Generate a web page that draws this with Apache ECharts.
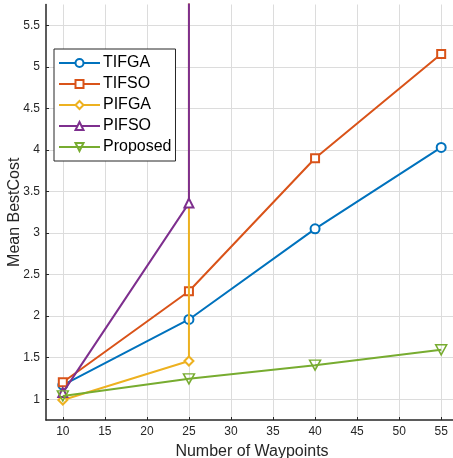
<!DOCTYPE html>
<html><head><meta charset="utf-8">
<script src="https://cdn.jsdelivr.net/npm/echarts@6/dist/echarts.min.js"></script>
<style>html,body{margin:0;padding:0;background:#fff}#c{width:453px;height:458px}</style>
</head><body><div id="c"></div>
<script>
const seriesNames = ['TIFGA','TIFSO','PIFGA','PIFSO','Proposed'];
const tifgaX = [10,25,40,55];
const tifgaY = [1.17,1.96,3.05,4.03];
const tifsoX = [10,25,40,55];
const tifsoY = [1.205,2.30,3.90,5.155];
const pifgaX = [10,25,25];
const pifgaY = [0.99,1.46,20];
const pifsoX = [10,25,25];
const pifsoY = [1.08,3.36,20];
const propX = [10,25,40,55];
const propY = [1.04,1.245,1.41,1.595];
const xTicks = [10,15,20,25,30,35,40,45,50,55];
const yTicks = [1,1.5,2,2.5,3,3.5,4,4.5,5,5.5];
const colors = ['#0072BD','#D95319','#EDB120','#7E2F8E','#77AC30'];
const symbols = ['emptyCircle','emptyRect','emptyDiamond','emptyTriangle','path://M0,0 L10,0 L5,9 Z'];

function zip(xs, ys){ return xs.map((x,i)=>[x, ys[i]]); }
const datas = [zip(tifgaX,tifgaY), zip(tifsoX,tifsoY), zip(pifgaX,pifgaY), zip(pifsoX,pifsoY), zip(propX,propY)];

const chart = echarts.init(document.getElementById('c'), null, {renderer:'canvas'});
const font = 'Helvetica, "Liberation Sans", Arial, sans-serif';
chart.setOption({
  animation:false,
  textStyle:{fontFamily:font},
  grid:{left:46, right:-5, top:4.5, bottom:38, containLabel:false, outerBoundsMode:'none'},
  legend:{
    data: seriesNames,
    orient:'vertical', left:54, top:49,
    itemWidth:41, itemHeight:10, itemGap:3,
    padding:[5,4,5,4],
    borderColor:'#262626', borderWidth:1, backgroundColor:'#fff',
    textStyle:{fontSize:16, lineHeight:18, color:'#000', fontFamily:font, padding:[0,0,0,-2]}
  },
  xAxis:{
    type:'value', min:8, max:57,
    name:'Number of Waypoints', nameLocation:'middle', nameGap:24, nameMoveOverlap:false,
    nameTextStyle:{fontSize:16, color:'#262626'},
    axisLine:{show:true, onZero:false, lineStyle:{color:'#262626', width:1.5}},
    axisTick:{show:true, inside:true, length:3, customValues:xTicks, lineStyle:{color:'#262626'}},
    axisLabel:{customValues:xTicks, fontSize:12, color:'#262626', margin:6},
    splitLine:{show:true, lineStyle:{color:'#dcdcdc', width:1}}
  },
  yAxis:{
    type:'value', min:0.75, max:5.75,
    name:'Mean BestCost', nameLocation:'middle', nameGap:23, nameMoveOverlap:false,
    nameTextStyle:{fontSize:16, color:'#262626'},
    axisLine:{show:true, onZero:false, lineStyle:{color:'#262626', width:1.5}},
    axisTick:{show:true, inside:true, length:3, customValues:yTicks, lineStyle:{color:'#262626'}},
    axisLabel:{customValues:yTicks, fontSize:12, color:'#262626', margin:6},
    splitLine:{show:true, lineStyle:{color:'#dcdcdc', width:1}}
  },
  series: seriesNames.map((n,i)=>({
    name:n, type:'line', data:datas[i], clip:true,
    symbol:symbols[i], symbolSize: i===4 ? [11,10] : (i===1 ? 8 : 9),
    showAllSymbol:true,
    lineStyle:{color:colors[i], width:2},
    itemStyle:{color: i===4 ? 'rgba(255,255,255,0)' : colors[i], borderColor:colors[i], borderWidth:1.5},
    z: 2 + i
  }))
});
</script></body></html>
